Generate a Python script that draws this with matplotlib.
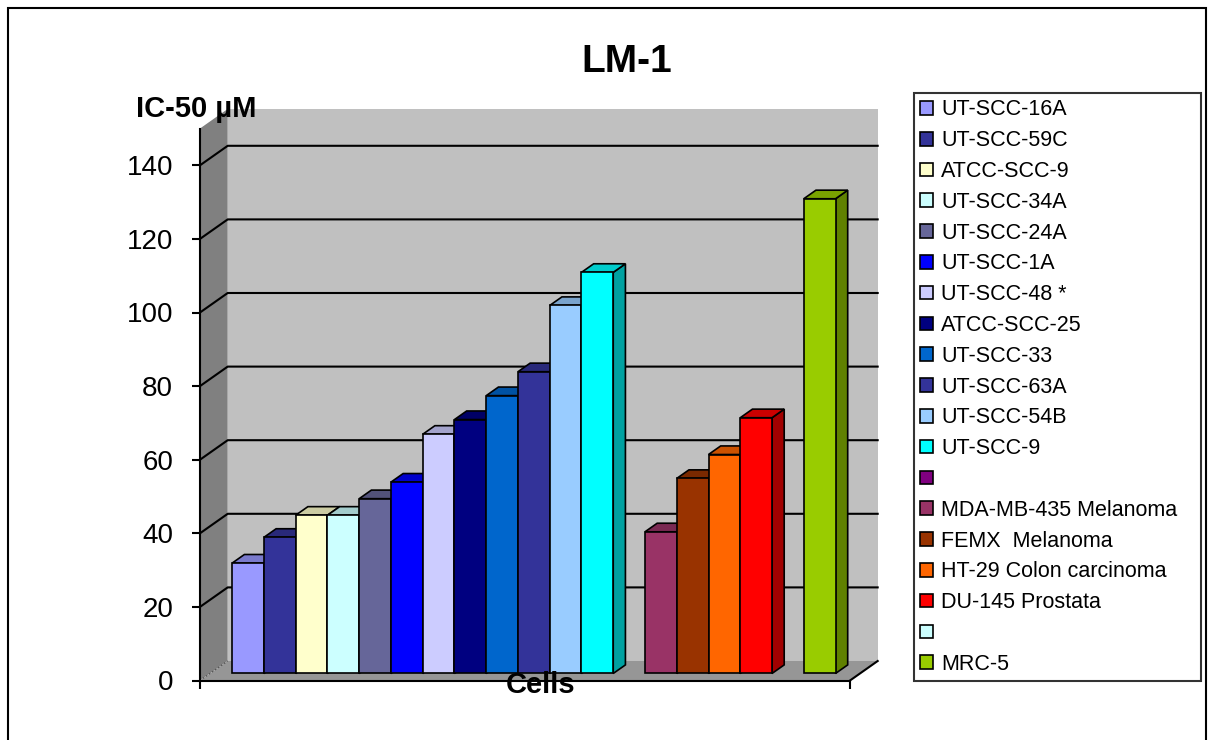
import numpy as np
import matplotlib.pyplot as plt
from matplotlib.patches import Polygon, Rectangle
from matplotlib.colors import to_rgb

plt.rcParams['font.family'] = ['Liberation Sans', 'DejaVu Sans']

# Daten (IC-50 in µM), leere Serien als Lücke
cells = ["UT-SCC-16A", "UT-SCC-59C", "ATCC-SCC-9", "UT-SCC-34A", "UT-SCC-24A",
         "UT-SCC-1A", "UT-SCC-48 *", "ATCC-SCC-25", "UT-SCC-33", "UT-SCC-63A",
         "UT-SCC-54B", "UT-SCC-9", "", "MDA-MB-435 Melanoma", "FEMX  Melanoma",
         "HT-29 Colon carcinoma", "DU-145 Prostata", "", "MRC-5"]
ic50 = [30, 37, 43, 43, 47.5, 52, 65, 69, 75.5, 82, 100, 109, np.nan,
        38.5, 53, 59.5, 69.5, np.nan, 129]
colors = ["#9999FF", "#333399", "#FFFFCC", "#CCFFFF", "#666699", "#0000FF",
          "#CCCCFF", "#000080", "#0066CC", "#333399", "#99CCFF", "#00FFFF",
          "#800080", "#993366", "#993300", "#FF6600", "#FF0000", "#CCFFFF",
          "#99CC00"]
yticks = [0, 20, 40, 60, 80, 100, 120, 140]

W, H = 1214, 740
fig = plt.figure(figsize=(W / 100, H / 100), dpi=100)
ax = fig.add_axes([200 / W, 1 - 680.5 / H, 650 / W, 552 / H])
ax.set_xlim(-1.2, 19.27)
ax.set_ylim(0, 150)
ax.patch.set_visible(False)
xmin, xmax = ax.get_xlim()

# Tiefe der 3D-Wand (in Datenkoordinaten)
DX, DY = 0.872, 5.3
f1, f2 = 0.36, 0.80


def poly(pts, fc, z, ec='none', lw=0):
    ax.add_patch(Polygon(pts, closed=True, fc=fc, ec=ec, lw=lw, zorder=z,
                         clip_on=False))


# Rückwand, linke Wand, Boden
poly([(xmin + DX, DY), (xmax + DX, DY), (xmax + DX, 150 + DY), (xmin + DX, 150 + DY)],
     "#C0C0C0", 0.5)
poly([(xmin, 0), (xmin + DX, DY), (xmin + DX, 150 + DY), (xmin, 150)], "#808080", 0.6)
poly([(xmin, 0), (xmax, 0), (xmax + DX, DY), (xmin + DX, DY)], "#969696", 0.7)
ax.plot([xmax, xmax + DX], [0, DY], color="black", lw=1.5, zorder=0.8, clip_on=False)
ax.plot([xmin, xmin + DX], [0, DY], color="#555555", lw=1, ls=":", zorder=0.8,
        clip_on=False)

# Gitterlinien
for v in yticks[1:]:
    ax.plot([xmin, xmin + DX, xmax + DX], [v, v + DY, v + DY], color="black",
            lw=1.5, zorder=0.9, clip_on=False)

# Säulen
x = np.arange(len(cells))
b0 = f1 * DY
ddx, ddy = (f2 - f1) * DX, (f2 - f1) * DY
for i in x:
    v = ic50[i]
    if np.isnan(v):
        continue
    c = np.array(to_rgb(colors[i]))
    xl = i - 0.5 + f1 * DX
    xr = xl + 1
    top = b0 + v
    z = 2 + i * 0.01
    poly([(xr, b0), (xr + ddx, b0 + ddy), (xr + ddx, top + ddy), (xr, top)],
         c * 0.63, z, ec="black", lw=1.2)
    poly([(xl, top), (xr, top), (xr + ddx, top + ddy), (xl + ddx, top + ddy)],
         c * 0.8, z, ec="black", lw=1.2)
    ax.bar(i + f1 * DX, v, width=1, bottom=b0, color=colors[i], edgecolor="black",
           linewidth=1.2, zorder=z + 0.005, clip_on=False)

# Achsen
for s in ["top", "right"]:
    ax.spines[s].set_visible(False)
for s in ["left", "bottom"]:
    ax.spines[s].set_linewidth(1.5)
    ax.spines[s].set_zorder(5)
ax.set_yticks(yticks)
ax.set_xticks([xmin, xmax])
ax.set_xticklabels([])
ax.tick_params(axis="y", length=5.8, width=1.5, pad=13.5, labelsize=20)
ax.tick_params(axis="x", length=5.8, width=1.5)

fig.text(627 / W, 1 - 71.7 / H, "LM-1", ha="center", va="baseline",
         fontsize=28, fontweight="bold")
fig.text(136 / W, 1 - 117 / H, "IC-50 µM", ha="left", va="baseline",
         fontsize=21, fontweight="bold")
fig.text(541 / W, 1 - 693 / H, "Cells", ha="center", va="baseline",
         fontsize=21, fontweight="bold", zorder=10)

# Legende
handles = [Rectangle((0, 0), 1, 1, fc=c, ec="black", lw=1.2) for c in colors]
leg = fig.legend(handles, cells, loc="upper left",
                 bbox_to_anchor=(914 / W, 1 - 93 / H, 287 / W, 0), mode="expand",
                 fontsize=15.5, frameon=True, fancybox=False, edgecolor="black",
                 handlelength=0.6, handleheight=0.6, handletextpad=0.35,
                 labelspacing=0.455, borderpad=0.3, borderaxespad=0)
leg.get_frame().set_linewidth(1.5)

# Rahmen
fig.add_artist(Rectangle((8 / W, -0.1), 1198 / W, 1.1 - 8 / H, transform=fig.transFigure,
                         fill=False, ec="black", lw=1.5))

fig.savefig("out.png", dpi=100)
